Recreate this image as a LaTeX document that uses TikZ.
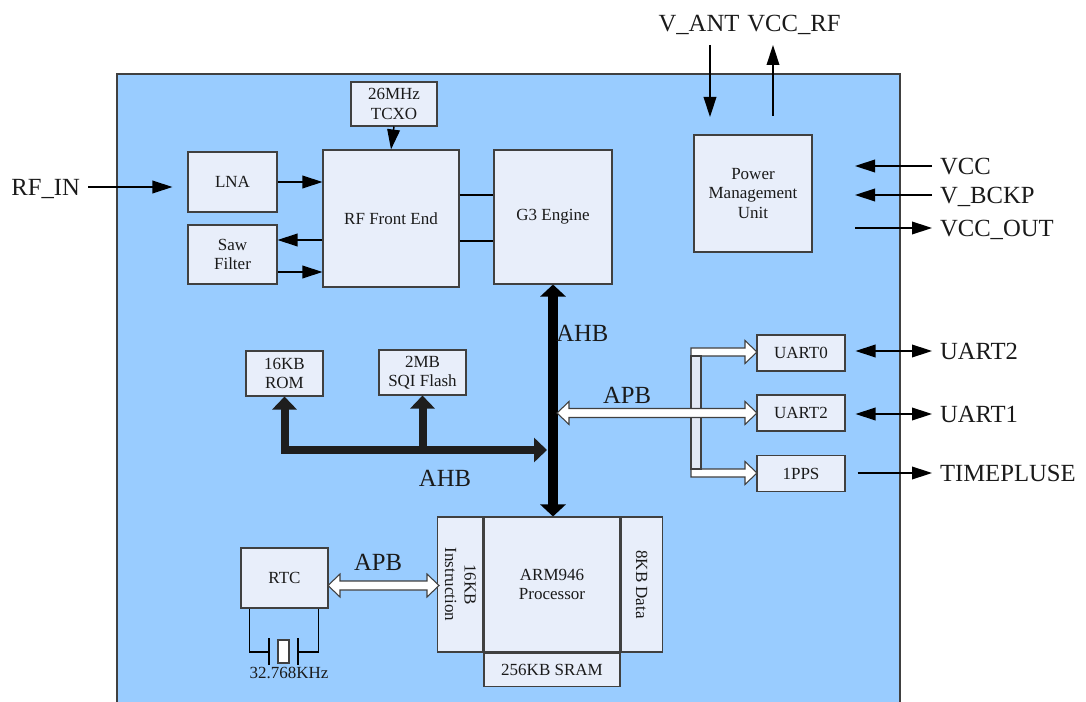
\documentclass[tikz,border=0pt]{standalone}
\usepackage{fontspec}
\setmainfont{Liberation Serif}
\usetikzlibrary{arrows.meta,calc}
\definecolor{chipblue}{RGB}{153,204,255}
\definecolor{boxfill}{RGB}{232,238,250}
\definecolor{boxline}{RGB}{64,64,64}
\definecolor{barfill}{RGB}{226,233,245}
\definecolor{inktext}{RGB}{26,26,26}
\definecolor{subbus}{RGB}{30,30,30}
\def\pxu{0.75pt}
\tikzset{
  sz/.style 2 args={minimum width=#1*\pxu, minimum height=#2*\pxu},
  blk/.style={draw=boxline, fill=boxfill, line width=0.8pt, inner sep=0pt, align=center,
    text=inktext, font=\fontsize{12.75}{14.5}\selectfont},
  txt/.style={inner sep=0pt, text=inktext, font=\fontsize{12.75}{14.5}\selectfont},
  big/.style={inner sep=0pt, text=inktext, text height=12.2pt, text depth=0pt,
    font=\fontsize{18.5}{20}\selectfont},
  ext/.style={big, outer sep=6pt},
  sig/.style={line width=1.1pt, -{Triangle[length=15pt,width=9.5pt]}},
  sigboth/.style={line width=1.1pt, {Triangle[length=15pt,width=9.5pt]}-{Triangle[length=15pt,width=9.5pt]}},
  ahbmain/.style={line width=7.5pt, {Triangle[length=9pt,width=18.75pt]}-{Triangle[length=9pt,width=18.75pt]}},
  ahbsub/.style={line width=6pt, draw=subbus, -{Triangle[length=9.75pt,width=18pt]}},
  apbfill/.style={draw=boxline, fill=white, line width=0.8pt, line join=miter}
}
\begin{document}
\begin{tikzpicture}[x=0.75pt,y=-0.75pt]
\useasboundingbox (0,0) rectangle (1086,702);
% chip outline
\draw[draw=boxline, fill=chipblue, line width=0.8pt] (117,74) rectangle (900,712);

% RF part
\node[blk, sz={86}{44}] (tcxo) at (394,104) {26MHz\\TCXO};
\node[blk, sz={89}{60}] (lna) at (232.5,182) {LNA};
\node[blk, sz={89}{59}] (saw) at (232.5,254.5) {Saw\\Filter};
\node[blk, sz={136}{137}] (rf) at (391,218.5) {RF Front End};
\node[blk, sz={118}{134}] (g3) at (553,217) {G3 Engine};
\node[blk, sz={118}{117}] (pmu) at (753,193.5) {Power\\Management\\Unit};

% memories and peripherals
\node[blk, sz={77}{45}] (rom) at (284.5,373.5) {16KB\\ROM};
\node[blk, sz={87}{45}] (flash) at (422.5,372.5) {2MB\\SQI Flash};
\node[blk, sz={88}{36}] (uart0) at (801,353) {UART0};
\node[blk, sz={88}{36}] (uart2) at (801,413) {UART2};
\node[blk, sz={88}{36}] (pps) at (801,473.5) {1PPS};
\node[blk, sz={87}{60}] (rtc) at (284.5,578) {RTC};

% processor
\node[blk, sz={136}{135}] (arm) at (552,584.5) {ARM946\\Processor};
\node[blk, sz={45}{135}, anchor=east] (instr) at (arm.west) {};
\node[txt, rotate=-90, align=center] at (instr) {16KB\\Instruction};
\node[blk, sz={41}{135}, anchor=west] (dcache) at (arm.east) {};
\node[txt, rotate=-90] at (dcache) {8KB Data};
\node[blk, sz={136}{33}, anchor=north] (sram) at (arm.south) {256KB SRAM};

% outside signals
\node[ext, anchor=east] (rfin) at (88,187) {RF\_IN};
\node[big] (vant) at (699,23) {V\_ANT};
\node[big] (vccrf) at (794,23) {VCC\_RF};
\node[ext, anchor=west] (vcc) at (932,166) {VCC};
\node[ext, anchor=west] (vbckp) at (932,195) {V\_BCKP};
\node[ext, anchor=west] (vccout) at (932,228) {VCC\_OUT};
\node[ext, anchor=west] (u2ext) at (932,351) {UART2};
\node[ext, anchor=west] (u1ext) at (932,414) {UART1};
\node[ext, anchor=west] (tpext) at (932,473) {TIMEPLUSE};

\coordinate (antin) at (710,45);
\coordinate (antend) at (710,117);
\coordinate (rfout) at (773,116);
\coordinate (pwrin) at (855,0);
\coordinate (ahbjoin) at (547,450);

\draw[sig, shorten >=11.25pt] (rfin.east) -- (rfin.east -| lna.west);
\draw[sig] (lna.east) -- (lna.east -| rf.west);
\coordinate (sawin) at ($(saw.east)+(0,-14.5)$);
\coordinate (sawout) at ($(saw.east)+(0,17.5)$);
\draw[sig] (rf.west |- sawin) -- (sawin);
\draw[sig] (sawout) -- (sawout -| rf.west);
\draw[sig] (tcxo.south) -- (rf.north);
\foreach \dy in {-23.5,22.5}{
  \coordinate (lk) at ($(rf.east)+(0,\dy)$);
  \draw[line width=2pt] (lk) -- (lk -| g3.west);
}
\draw[sig] (antin) -- (antend);
\draw[sig] (rfout) -- (rfout |- antin);
\draw[sig] (vcc.west) -- (vcc.west -| pwrin);
\draw[sig] (vbckp.west) -- (vbckp.west -| pwrin);
\draw[sig] (vccout.west -| pwrin) -- (vccout.west);
\draw[sigboth, shorten <=7.5pt] (u2ext.west -| uart0.east) -- (u2ext.west);
\draw[sigboth, shorten <=7.5pt] (u1ext.west -| uart2.east) -- (u1ext.west);
\draw[sig, shorten <=9pt] (tpext.west -| pps.east) -- (tpext.west);

% AHB
\draw[ahbmain] (g3.south) -- (g3.south |- arm.north);
\draw[ahbsub, {Triangle[length=9.75pt,width=18pt]}-{Triangle[length=9.75pt,width=18pt]}]
  (rom.south) -- (rom.south |- ahbjoin) -- (ahbjoin);
\draw[ahbsub] (flash.south |- ahbjoin) -- (flash.south);
\node[big, anchor=west] (ahbv) at (556,333) {AHB};
\node[big] (ahbh) at (445,478) {AHB};

% APB
\foreach \yy in {352,473}
  \draw[apbfill] (691,\yy-4) -- (745,\yy-4) -- (745,\yy-11.5) -- (757,\yy)
    -- (745,\yy+11.5) -- (745,\yy+4) -- (691,\yy+4) -- cycle;
\draw[draw=boxline, fill=barfill, line width=0.8pt] (691,356) rectangle (701,469);
\draw[apbfill] (557,413) -- (569,401.5) -- (569,408.5) -- (745,408.5) -- (745,401.5) -- (757,413)
  -- (745,424.5) -- (745,417.5) -- (569,417.5) -- (569,424.5) -- cycle;
\node[big] (apbu) at (627,395) {APB};
\draw[apbfill] (328,585.5) -- (340,574) -- (340,581) -- (427,581) -- (427,574) -- (439,585.5)
  -- (427,597) -- (427,590) -- (340,590) -- (340,597) -- cycle;
\node[big] (apbl) at (378,562) {APB};

% crystal
\draw[line width=0.9pt] ($(rtc.south west)+(9,0)$) |- (269,652);
\draw[line width=0.9pt] ($(rtc.south east)+(-10,0)$) |- (298,652);
\draw[line width=1.2pt] (269,638) -- (269,665);
\draw[line width=1.2pt] (298,638) -- (298,665);
\draw[draw=boxline, fill=white, line width=0.8pt] (278,640) rectangle (289,663);
\node[txt] (xtal) at (289,673) {32.768KHz};
\end{tikzpicture}
\end{document}
